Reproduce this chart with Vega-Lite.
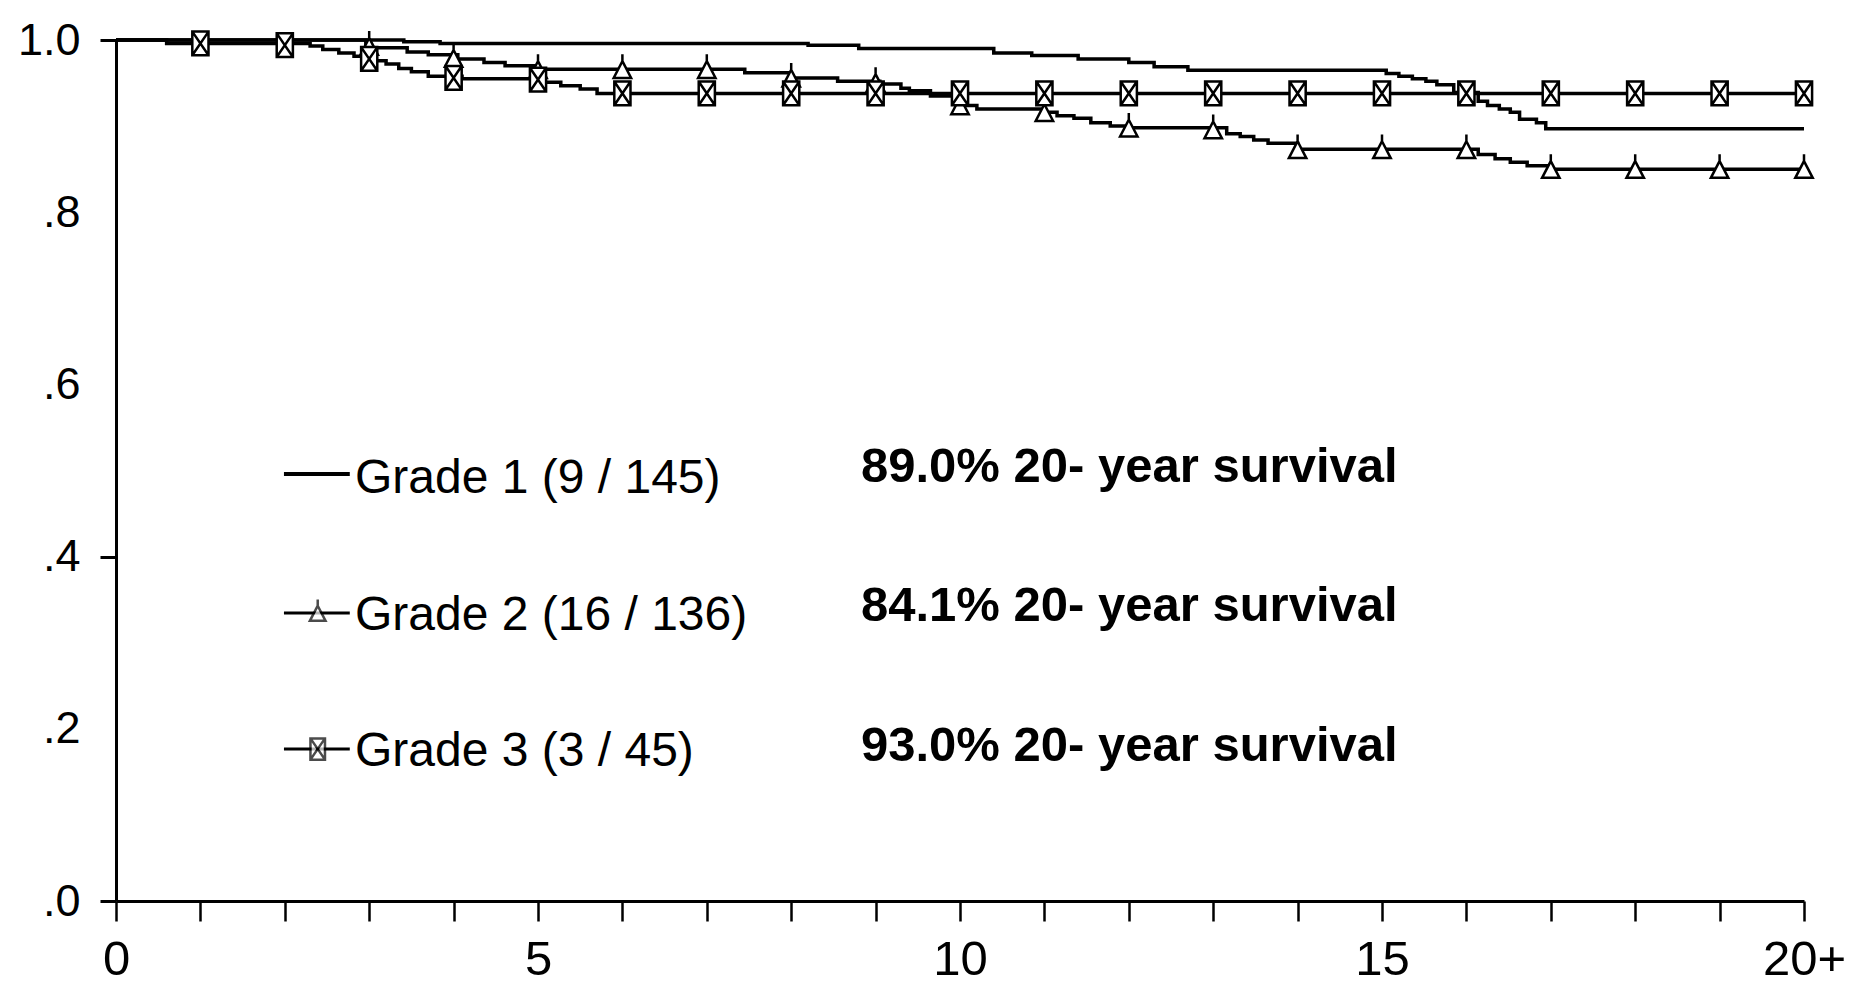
{
  "$schema": "https://vega.github.io/schema/vega-lite/v6.json",
  "width": 1688,
  "height": 861,
  "autosize": {"type": "none"},
  "padding": {"left": 116, "top": 40, "right": 54, "bottom": 85},
  "background": "white",
  "config": {
    "view": {"stroke": null},
    "axis": {"labelFont": "Liberation Sans", "labelColor": "black", "domainColor": "black", "tickColor": "black"},
    "legend": {"labelFont": "Liberation Sans", "labelColor": "black"}
  },
  "datasets": {
    "curves": [
      {"grade": "Grade 1", "year": 0, "surv": 1.0},
      {"grade": "Grade 1", "year": 3.41, "surv": 0.998},
      {"grade": "Grade 1", "year": 3.84, "surv": 0.996},
      {"grade": "Grade 1", "year": 8.2, "surv": 0.994},
      {"grade": "Grade 1", "year": 8.8, "surv": 0.99},
      {"grade": "Grade 1", "year": 10.4, "surv": 0.985},
      {"grade": "Grade 1", "year": 10.85, "surv": 0.982},
      {"grade": "Grade 1", "year": 11.4, "surv": 0.978},
      {"grade": "Grade 1", "year": 12.0, "surv": 0.974},
      {"grade": "Grade 1", "year": 12.3, "surv": 0.969},
      {"grade": "Grade 1", "year": 12.7, "surv": 0.965},
      {"grade": "Grade 1", "year": 15.05, "surv": 0.961},
      {"grade": "Grade 1", "year": 15.2, "surv": 0.958},
      {"grade": "Grade 1", "year": 15.36, "surv": 0.955},
      {"grade": "Grade 1", "year": 15.52, "surv": 0.952},
      {"grade": "Grade 1", "year": 15.65, "surv": 0.948},
      {"grade": "Grade 1", "year": 15.85, "surv": 0.939},
      {"grade": "Grade 1", "year": 16.14, "surv": 0.929},
      {"grade": "Grade 1", "year": 16.25, "surv": 0.924},
      {"grade": "Grade 1", "year": 16.39, "surv": 0.92},
      {"grade": "Grade 1", "year": 16.52, "surv": 0.916},
      {"grade": "Grade 1", "year": 16.63, "surv": 0.908},
      {"grade": "Grade 1", "year": 16.83, "surv": 0.904},
      {"grade": "Grade 1", "year": 16.94, "surv": 0.897},
      {"grade": "Grade 1", "year": 20, "surv": 0.897},
      {"grade": "Grade 2", "year": 0, "surv": 1.0},
      {"grade": "Grade 2", "year": 2.96, "surv": 0.991},
      {"grade": "Grade 2", "year": 3.45, "surv": 0.986},
      {"grade": "Grade 2", "year": 3.7, "surv": 0.983},
      {"grade": "Grade 2", "year": 4.05, "surv": 0.978},
      {"grade": "Grade 2", "year": 4.36, "surv": 0.974},
      {"grade": "Grade 2", "year": 4.61, "surv": 0.97},
      {"grade": "Grade 2", "year": 4.95, "surv": 0.966},
      {"grade": "Grade 2", "year": 7.45, "surv": 0.962},
      {"grade": "Grade 2", "year": 8.0, "surv": 0.956},
      {"grade": "Grade 2", "year": 8.55, "surv": 0.952},
      {"grade": "Grade 2", "year": 9.05, "surv": 0.949},
      {"grade": "Grade 2", "year": 9.3, "surv": 0.944},
      {"grade": "Grade 2", "year": 9.4, "surv": 0.941},
      {"grade": "Grade 2", "year": 9.65, "surv": 0.935},
      {"grade": "Grade 2", "year": 10.0, "surv": 0.924},
      {"grade": "Grade 2", "year": 10.2, "surv": 0.92},
      {"grade": "Grade 2", "year": 11.0, "surv": 0.916},
      {"grade": "Grade 2", "year": 11.15, "surv": 0.912},
      {"grade": "Grade 2", "year": 11.35, "surv": 0.909},
      {"grade": "Grade 2", "year": 11.55, "surv": 0.904},
      {"grade": "Grade 2", "year": 11.78, "surv": 0.9},
      {"grade": "Grade 2", "year": 12.0, "surv": 0.898},
      {"grade": "Grade 2", "year": 13.16, "surv": 0.891},
      {"grade": "Grade 2", "year": 13.32, "surv": 0.888},
      {"grade": "Grade 2", "year": 13.48, "surv": 0.884},
      {"grade": "Grade 2", "year": 13.65, "surv": 0.88},
      {"grade": "Grade 2", "year": 14.0, "surv": 0.873},
      {"grade": "Grade 2", "year": 16.14, "surv": 0.867},
      {"grade": "Grade 2", "year": 16.34, "surv": 0.862},
      {"grade": "Grade 2", "year": 16.52, "surv": 0.858},
      {"grade": "Grade 2", "year": 16.72, "surv": 0.854},
      {"grade": "Grade 2", "year": 17.0, "surv": 0.85},
      {"grade": "Grade 2", "year": 20, "surv": 0.85},
      {"grade": "Grade 3", "year": 0, "surv": 1.0},
      {"grade": "Grade 3", "year": 0.6, "surv": 0.996},
      {"grade": "Grade 3", "year": 2.3, "surv": 0.993},
      {"grade": "Grade 3", "year": 2.45, "surv": 0.989},
      {"grade": "Grade 3", "year": 2.64, "surv": 0.985},
      {"grade": "Grade 3", "year": 2.82, "surv": 0.981},
      {"grade": "Grade 3", "year": 3.0, "surv": 0.976},
      {"grade": "Grade 3", "year": 3.2, "surv": 0.972},
      {"grade": "Grade 3", "year": 3.35, "surv": 0.967},
      {"grade": "Grade 3", "year": 3.5, "surv": 0.963},
      {"grade": "Grade 3", "year": 3.7, "surv": 0.958},
      {"grade": "Grade 3", "year": 4.1, "surv": 0.955},
      {"grade": "Grade 3", "year": 5.05, "surv": 0.951},
      {"grade": "Grade 3", "year": 5.27, "surv": 0.947},
      {"grade": "Grade 3", "year": 5.5, "surv": 0.943},
      {"grade": "Grade 3", "year": 5.7, "surv": 0.938},
      {"grade": "Grade 3", "year": 20, "surv": 0.938}
    ],
    "markers": [
      {"grade": "Grade 2", "year": 3, "surv": 0.993},
      {"grade": "Grade 2", "year": 4, "surv": 0.979},
      {"grade": "Grade 2", "year": 5, "surv": 0.966},
      {"grade": "Grade 2", "year": 6, "surv": 0.966},
      {"grade": "Grade 2", "year": 7, "surv": 0.966},
      {"grade": "Grade 2", "year": 8, "surv": 0.956},
      {"grade": "Grade 2", "year": 9, "surv": 0.951},
      {"grade": "Grade 2", "year": 10, "surv": 0.924},
      {"grade": "Grade 2", "year": 11, "surv": 0.916},
      {"grade": "Grade 2", "year": 12, "surv": 0.898},
      {"grade": "Grade 2", "year": 13, "surv": 0.896},
      {"grade": "Grade 2", "year": 14, "surv": 0.873},
      {"grade": "Grade 2", "year": 15, "surv": 0.873},
      {"grade": "Grade 2", "year": 16, "surv": 0.873},
      {"grade": "Grade 2", "year": 17, "surv": 0.85},
      {"grade": "Grade 2", "year": 18, "surv": 0.85},
      {"grade": "Grade 2", "year": 19, "surv": 0.85},
      {"grade": "Grade 2", "year": 20, "surv": 0.85},
      {"grade": "Grade 3", "year": 1, "surv": 0.996},
      {"grade": "Grade 3", "year": 2, "surv": 0.994},
      {"grade": "Grade 3", "year": 3, "surv": 0.978},
      {"grade": "Grade 3", "year": 4, "surv": 0.956},
      {"grade": "Grade 3", "year": 5, "surv": 0.954},
      {"grade": "Grade 3", "year": 6, "surv": 0.938},
      {"grade": "Grade 3", "year": 7, "surv": 0.938},
      {"grade": "Grade 3", "year": 8, "surv": 0.938},
      {"grade": "Grade 3", "year": 9, "surv": 0.938},
      {"grade": "Grade 3", "year": 10, "surv": 0.938},
      {"grade": "Grade 3", "year": 11, "surv": 0.938},
      {"grade": "Grade 3", "year": 12, "surv": 0.938},
      {"grade": "Grade 3", "year": 13, "surv": 0.938},
      {"grade": "Grade 3", "year": 14, "surv": 0.938},
      {"grade": "Grade 3", "year": 15, "surv": 0.938},
      {"grade": "Grade 3", "year": 16, "surv": 0.938},
      {"grade": "Grade 3", "year": 17, "surv": 0.938},
      {"grade": "Grade 3", "year": 18, "surv": 0.938},
      {"grade": "Grade 3", "year": 19, "surv": 0.938},
      {"grade": "Grade 3", "year": 20, "surv": 0.938}
    ],
    "legendRows": [
      {"grade": "Grade 1", "label": "Grade 1 (9 / 145)", "survival": "89.0% 20- year survival"},
      {"grade": "Grade 2", "label": "Grade 2 (16 / 136)", "survival": "84.1% 20- year survival"},
      {"grade": "Grade 3", "label": "Grade 3 (3 / 45)", "survival": "93.0% 20- year survival"}
    ]
  },
  "layer": [
    {
      "data": {"name": "curves"},
      "mark": {"type": "line", "interpolate": "step-after", "stroke": "black", "strokeWidth": 3.5, "clip": false},
      "encoding": {
        "x": {
          "field": "year", "type": "quantitative",
          "scale": {"domain": [0, 20], "nice": false, "zero": false},
          "axis": {
            "title": null, "grid": false,
            "values": [0,1,2,3,4,5,6,7,8,9,10,11,12,13,14,15,16,17,18,19,20],
            "labelExpr": "datum.value == 20 ? '20+' : (datum.value % 5 == 0 ? format(datum.value, 'd') : '')",
            "tickSize": 20, "tickWidth": 2.5, "domainWidth": 3,
            "labelFontSize": 49, "labelPadding": 14, "labelOverlap": false, "labelFlush": false
          }
        },
        "y": {
          "field": "surv", "type": "quantitative",
          "scale": {"domain": [0, 1], "nice": false},
          "axis": {
            "title": null, "grid": false,
            "values": [0, 0.2, 0.4, 0.6, 0.8, 1],
            "labelExpr": "datum.value == 1 ? '1.0' : replace(format(datum.value, '.1f'), '0.', '.')",
            "tickSize": 16, "tickWidth": 3, "domainWidth": 3,
            "tickOpacity": {"condition": {"test": "datum.value < 0.05 || datum.value > 0.95 || abs(datum.value - 0.4) < 0.05", "value": 1}, "value": 0},
            "labelFontSize": 45, "labelPadding": 20, "labelFlush": false
          }
        },
        "detail": {"field": "grade", "type": "nominal"}
      }
    },
    {
      "data": {"name": "markers"},
      "mark": {"type": "point", "filled": true, "fill": "white", "stroke": "black", "strokeWidth": 2.5, "size": 620, "opacity": 1},
      "encoding": {
        "x": {"field": "year", "type": "quantitative"},
        "y": {"field": "surv", "type": "quantitative"},
        "shape": {
          "field": "grade", "type": "nominal", "legend": null,
          "scale": {"domain": ["Grade 2", "Grade 3"], "range": [
            "M0,-1.2V-0.65M0,-0.65L0.7,0.7H-0.7Z",
            "M-0.65,-0.95H0.65V0.95H-0.65ZM-0.65,-0.95L0.65,0.95M0.65,-0.95L-0.65,0.95"
          ]}
        }
      }
    },
    {
      "data": {"name": "legendRows"},
      "transform": [{"filter": "datum.grade == 'Grade 1'"}],
      "mark": {"type": "rule", "stroke": "black", "strokeWidth": 4},
      "encoding": {"x": {"datum": 1.99}, "x2": {"datum": 2.77}, "y": {"datum": 0.4959}}
    },
    {
      "data": {"name": "legendRows"},
      "transform": [{"filter": "datum.grade == 'Grade 2'"}],
      "mark": {"type": "rule", "stroke": "black", "strokeWidth": 3},
      "encoding": {"x": {"datum": 1.99}, "x2": {"datum": 2.77}, "y": {"datum": 0.3345}}
    },
    {
      "data": {"name": "legendRows"},
      "transform": [{"filter": "datum.grade == 'Grade 3'"}],
      "mark": {"type": "rule", "stroke": "black", "strokeWidth": 3},
      "encoding": {"x": {"datum": 1.99}, "x2": {"datum": 2.77}, "y": {"datum": 0.1765}}
    },
    {
      "data": {"name": "legendRows"},
      "transform": [{"filter": "datum.grade == 'Grade 2'"}],
      "mark": {"type": "point", "filled": true, "fill": "white", "stroke": "black", "strokeWidth": 2.5, "size": 500, "shape": "M0,-1.2V-0.65M0,-0.65L0.7,0.7H-0.7Z"},
      "encoding": {"x": {"datum": 2.39}, "y": {"datum": 0.3345}}
    },
    {
      "data": {"name": "legendRows"},
      "transform": [{"filter": "datum.grade == 'Grade 3'"}],
      "mark": {"type": "point", "filled": true, "fill": "white", "stroke": "black", "strokeWidth": 2.5, "size": 500, "shape": "M-0.65,-0.95H0.65V0.95H-0.65ZM-0.65,-0.95L0.65,0.95M0.65,-0.95L-0.65,0.95"},
      "encoding": {"x": {"datum": 2.39}, "y": {"datum": 0.1765}}
    },
    {
      "data": {"name": "legendRows"},
      "transform": [{"filter": "false"}],
      "mark": {"type": "point", "filled": true},
      "encoding": {
        "fill": {
          "field": "label", "type": "nominal",
          "scale": {
            "domain": ["Grade 1 (9 / 145)", "Grade 2 (16 / 136)", "Grade 3 (3 / 45)"],
            "range": ["black", "black", "black"]
          },
          "legend": {
            "title": null, "orient": "none", "legendX": 191, "legendY": 415,
            "symbolSize": 1, "symbolOpacity": 0, "symbolType": "circle",
            "labelFontSize": 48, "labelOffset": 0, "rowPadding": 88.5, "padding": 0, "labelLimit": 0
          }
        }
      }
    },
    {
      "data": {"name": "legendRows"},
      "transform": [{"filter": "false"}],
      "mark": {"type": "point", "filled": true},
      "encoding": {
        "color": {
          "field": "survival", "type": "nominal",
          "scale": {
            "domain": ["89.0% 20- year survival", "84.1% 20- year survival", "93.0% 20- year survival"],
            "range": ["black", "black", "black"]
          },
          "legend": {
            "title": null, "orient": "none", "legendX": 696, "legendY": 402,
            "symbolSize": 1, "symbolOpacity": 0, "symbolType": "circle",
            "labelFontSize": 49, "labelFontWeight": "bold", "labelOffset": 0, "rowPadding": 89.5, "padding": 0, "labelLimit": 0
          }
        }
      }
    }
  ]
}
